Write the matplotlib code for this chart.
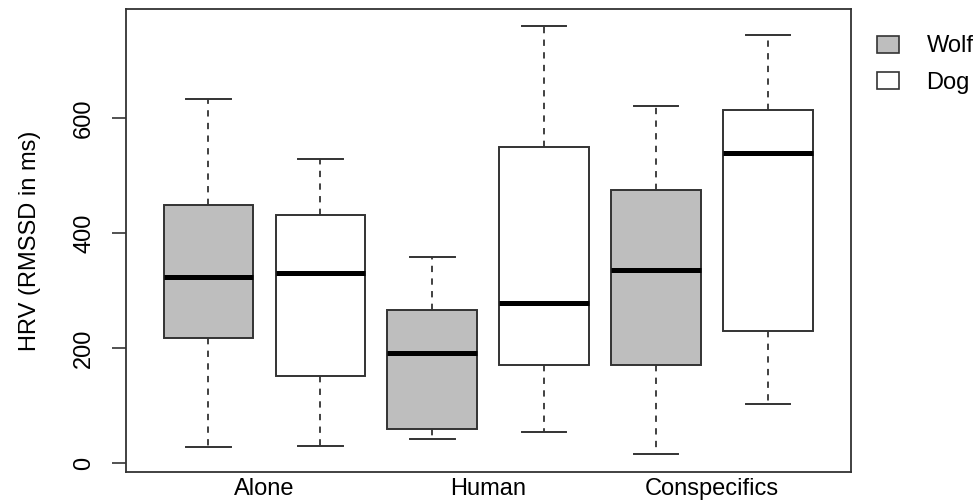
import matplotlib
matplotlib.use("Agg")
import matplotlib.pyplot as plt
from matplotlib.patches import Patch

plt.rcParams['font.family'] = ['Liberation Sans', 'DejaVu Sans']

# five-number summaries per box: Wolf/Dog for each condition
conditions = ["Alone", "Human", "Conspecifics"]
species = ["Wolf", "Dog"]
lower_whisker = [28, 29, 42, 53, 15, 102]
q1 = [217, 152, 59, 171, 170, 230]
median = [323, 330, 192, 279, 336, 539]
q3 = [449, 431, 266, 550, 474, 614]
upper_whisker = [633, 528, 359, 760, 621, 745]
fills = ["#bebebe", "white", "#bebebe", "white", "#bebebe", "white"]

stats = []
for i in range(len(median)):
    stats.append({"whislo": lower_whisker[i], "q1": q1[i], "med": median[i],
                  "q3": q3[i], "whishi": upper_whisker[i], "fliers": []})

fig = plt.figure(figsize=(9.74, 5.04), dpi=100)
ax = fig.add_axes([0.129, 0.0635, 0.7444, 0.9187])

edge = "#333333"
positions = list(range(1, len(stats) + 1))
bp = ax.bxp(stats, positions=positions, widths=0.8, patch_artist=True,
            showfliers=False,
            boxprops=dict(edgecolor=edge, linewidth=1.4),
            medianprops=dict(color="black", linewidth=3.6, solid_capstyle="butt"),
            whiskerprops=dict(color=edge, linewidth=1.3, linestyle=(0, (3.5, 3.5))),
            capprops=dict(color=edge, linewidth=1.4),
            capwidths=0.4)
for box, c in zip(bp["boxes"], fills):
    box.set_facecolor(c)

ax.set_xlim(0.26, 6.74)
ax.set_ylim(-15.7, 789.6)

ax.set_xticks([1.5, 3.5, 5.5])
ax.set_xticklabels(conditions, fontsize=17)
ax.tick_params(axis="x", length=0, pad=4.5)

ax.set_yticks([0, 200, 400, 600])
ax.set_yticklabels(["0", "200", "400", "600"], rotation=90, va="center", fontsize=17)
ax.tick_params(axis="y", length=10, width=1.2, color=edge, pad=12)

for s in ax.spines.values():
    s.set_color(edge)
    s.set_linewidth(1.3)

ax.set_ylabel("HRV (RMSSD in ms)", fontsize=17, labelpad=23)

handles = [Patch(facecolor="#bebebe", edgecolor=edge, linewidth=1.2),
           Patch(facecolor="white", edgecolor=edge, linewidth=1.2)]
fig.legend(handles, species, loc="upper left", bbox_to_anchor=(0.879, 0.972),
           frameon=False, fontsize=17, handlelength=0.93, handleheight=0.72,
           handletextpad=1.15, labelspacing=0.6)

fig.savefig("out.png", dpi=100)
